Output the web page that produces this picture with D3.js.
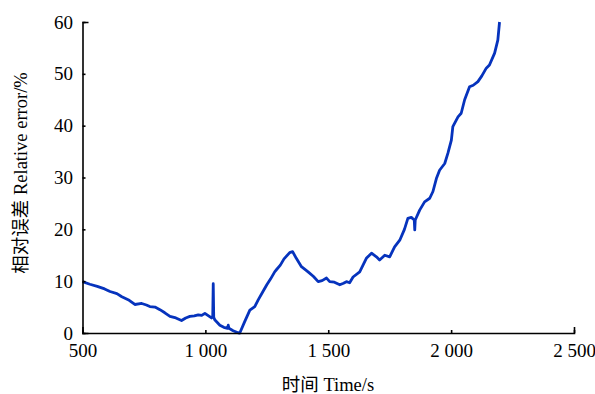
<!DOCTYPE html>
<html>
<head>
<meta charset="utf-8">
<script src="https://cdn.jsdelivr.net/npm/d3@7"></script>
<style>
  body { margin: 0; background: #fff; }
  .tick text { font-family: "Liberation Serif", "Times New Roman", serif; font-size: 19px; fill: #000; }
  .title { font-family: "Liberation Serif", "Times New Roman", "Noto Sans CJK SC", serif; font-size: 18.5px; fill: #000; }
</style>
</head>
<body>
<div id="chart"></div>
<script>
// time (s) and relative error (%)
const timeS = [500, 530, 560, 590, 612, 640, 660, 690, 713, 741, 760, 774, 795, 815, 835, 856, 880, 903, 920,
    937, 955, 971, 985, 998, 1025, 1030, 1032, 1034, 1039, 1059, 1075, 1090, 1093, 1096, 1113, 1133, 1140,
    1160, 1181, 1201, 1215, 1232, 1250, 1265, 1282, 1289, 1305, 1320, 1343, 1355, 1370, 1391, 1418, 1440,
    1459, 1475, 1493, 1506, 1525, 1547, 1562, 1574, 1587, 1601, 1628, 1655, 1676, 1696, 1709, 1730,
    1750, 1770, 1791, 1810, 1824, 1838, 1850, 1852, 1854, 1872, 1892, 1913, 1926, 1940, 1953, 1974, 1987,
    2001, 2007, 2028, 2041, 2055, 2075, 2090, 2109, 2125, 2143, 2156, 2177, 2190, 2197];
const errorPct = [9.9, 9.4, 9.0, 8.5, 8.0, 7.6, 7.0, 6.3, 5.5, 5.7, 5.4, 5.1, 5.0, 4.5, 3.9, 3.2, 2.9, 2.4, 2.9,
    3.2, 3.3, 3.5, 3.4, 3.8, 2.9, 3.3, 9.5, 3.0, 2.5, 1.5, 1.1, 0.9, 1.5, 0.9, 0.45, 0.05, 0.0,
    2.2, 4.4, 5.1, 6.4, 7.8, 9.3, 10.4, 11.8, 12.2, 13.1, 14.3, 15.5, 15.7, 14.4, 12.8, 11.8, 10.9,
    9.9, 10.1, 10.6, 9.9, 9.8, 9.3, 9.6, 9.9, 9.7, 10.8, 11.8, 14.4, 15.4, 14.7, 14.1, 15.0,
    14.7, 16.6, 17.9, 20.0, 22.1, 22.3, 21.8, 19.9, 21.8, 23.7, 25.3, 26.0, 27.3, 29.8, 31.4, 32.7, 34.7,
    37.2, 39.8, 41.7, 42.4, 45.0, 47.5, 47.8, 48.5, 49.6, 51.1, 51.7, 54.0, 56.5, 60.0];
const xTicks = [500, 1000, 1500, 2000, 2500];
const yTicks = [0, 10, 20, 30, 40, 50, 60];

const width = 595, height = 394;
const x = d3.scaleLinear().domain([500, 2500]).range([82.5, 574]);
const y = d3.scaleLinear().domain([0, 60]).range([333, 22]);

const svg = d3.select("#chart").append("svg")
    .attr("width", width)
    .attr("height", height);

const fmt = d => d >= 1000 ? d3.format(",")(d).replace(",", " ") : d;

const line = d3.line()
    .x((d, i) => x(timeS[i]))
    .y(d => y(d));

svg.append("path")
    .datum(errorPct)
    .attr("fill", "none")
    .attr("stroke", "#0633bd")
    .attr("stroke-width", 2.8)
    .attr("stroke-linejoin", "round")
    .attr("d", line);

const xAxis = svg.append("g")
    .attr("transform", "translate(0," + y(0) + ")")
    .call(d3.axisBottom(x).tickValues(xTicks).tickFormat(fmt)
        .tickSizeInner(-3).tickSizeOuter(-6).tickPadding(10.5));

const yAxis = svg.append("g")
    .attr("transform", "translate(" + x(500) + ",0)")
    .call(d3.axisLeft(y).tickValues(yTicks)
        .tickSizeInner(-3).tickSizeOuter(-6).tickPadding(9.5));

[xAxis, yAxis].forEach(g => {
    g.selectAll("path, line").attr("stroke", "#000").attr("stroke-width", 1.6);
    g.selectAll("text").attr("font-family", null).attr("font-size", null);
});

svg.append("text")
    .attr("class", "title")
    .attr("x", 328)
    .attr("y", 391)
    .attr("text-anchor", "middle")
    .text("时间 Time/s");

svg.append("text")
    .attr("class", "title")
    .attr("transform", "translate(27,173) rotate(-90)")
    .attr("text-anchor", "middle")
    .text("相对误差 Relative error/%");
</script>
</body>
</html>
